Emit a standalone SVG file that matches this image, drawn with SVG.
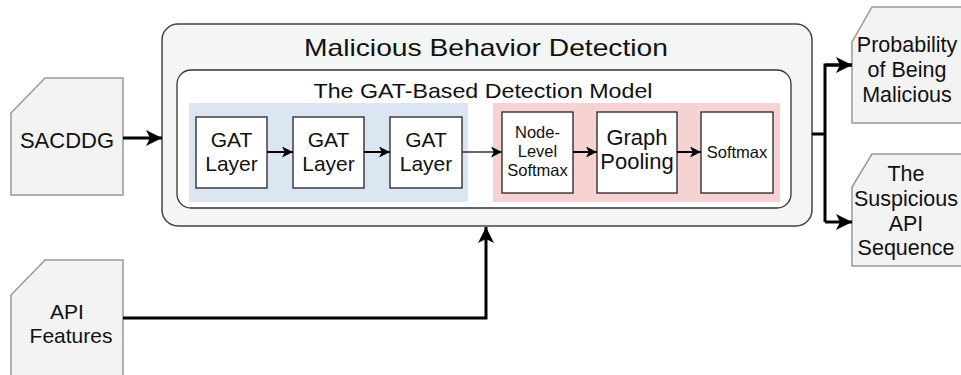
<svg xmlns="http://www.w3.org/2000/svg" width="961" height="375" viewBox="0 0 961 375">
  <defs>
    <style>
      text { font-family: "Liberation Sans", Arial, Helvetica, sans-serif; fill: #111; text-anchor: middle; }
      .card { fill: #f3f3f3; stroke: #999; stroke-width: 1.5; }
      .box { fill: #fff; stroke: #222; stroke-width: 1.3; }
      .wire { fill: none; stroke: #000; stroke-width: 3; }
      .thin { fill: none; stroke: #000; stroke-width: 2; }
      .t21 { font-size: 21px; }
      .t17 { font-size: 16.5px; }
      .t22 { font-size: 21.5px; }
    </style>
    <marker id="head" viewBox="0 0 10 10" refX="10" refY="5" markerWidth="16" markerHeight="16" markerUnits="userSpaceOnUse" orient="auto">
      <path d="M0,0 L10,5 L0,10 L2.5,5 Z" fill="#000"/>
    </marker>
    <marker id="headS" viewBox="0 0 10 10" refX="10" refY="5" markerWidth="11" markerHeight="11" markerUnits="userSpaceOnUse" orient="auto">
      <path d="M0,0 L10,5 L0,10 L2.5,5 Z" fill="#000"/>
    </marker>
  </defs>

  <rect width="961" height="375" fill="#fff"/>

  <!-- container: detection stage -->
  <g id="detection">
    <rect x="162" y="24" width="650" height="202" rx="16" fill="#f4f5f5" stroke="#444" stroke-width="1.5"/>
    <text x="486" y="56" font-size="24" textLength="364" lengthAdjust="spacingAndGlyphs">Malicious Behavior Detection</text>
  </g>

  <!-- GAT-based model -->
  <g id="gat-model">
    <rect x="177" y="70" width="614" height="138" rx="14" fill="#fff" stroke="#333" stroke-width="1.3"/>
    <text x="483" y="98" font-size="21" textLength="339" lengthAdjust="spacingAndGlyphs">The GAT-Based Detection Model</text>
    <rect x="189" y="103" width="279" height="99" fill="#dbe6f2"/>
    <rect x="493" y="103" width="287" height="99" fill="#f6d2d2"/>
  </g>

  <g id="gat1">
    <rect class="box" x="196" y="117" width="71" height="71"/>
    <text class="t21" x="231.5" y="147">GAT</text>
    <text class="t21" x="231.5" y="171">Layer</text>
  </g>
  <g id="gat2">
    <rect class="box" x="293" y="117" width="71" height="71"/>
    <text class="t21" x="328.5" y="147">GAT</text>
    <text class="t21" x="328.5" y="171">Layer</text>
  </g>
  <g id="gat3">
    <rect class="box" x="390" y="117" width="72" height="71"/>
    <text class="t21" x="426" y="147">GAT</text>
    <text class="t21" x="426" y="171">Layer</text>
  </g>

  <g id="node-softmax">
    <rect class="box" x="502" y="112" width="71" height="81"/>
    <text class="t17" x="537.5" y="138">Node-</text>
    <text class="t17" x="537.5" y="157">Level</text>
    <text class="t17" x="537.5" y="176">Softmax</text>
  </g>
  <g id="graph-pooling">
    <rect class="box" x="597" y="112" width="80" height="81"/>
    <text x="637" y="145" font-size="22">Graph</text>
    <text x="637" y="169" font-size="22">Pooling</text>
  </g>
  <g id="softmax">
    <rect class="box" x="701" y="112" width="72" height="81"/>
    <text class="t17" x="737" y="158">Softmax</text>
  </g>

  <!-- inputs -->
  <g id="sacddg">
    <path class="card" d="M45,78 H123 V195 H11 V113 Z"/>
    <text x="67" y="148" font-size="22">SACDDG</text>
  </g>
  <g id="api-features">
    <path class="card" d="M45,260 H123 V380 H11 V295 Z"/>
    <text x="67" y="319" font-size="21">API</text>
    <text x="71" y="343" font-size="21">Features</text>
  </g>

  <!-- outputs -->
  <g id="probability">
    <path class="card" d="M872,7 H970 V123 H852 V42 Z"/>
    <text class="t22" x="907" y="52">Probability</text>
    <text class="t22" x="907" y="77">of Being</text>
    <text class="t22" x="907" y="102">Malicious</text>
  </g>
  <g id="suspicious-sequence">
    <path class="card" d="M872,154 H970 V266 H852 V187 Z"/>
    <text class="t22" x="906" y="181">The</text>
    <text class="t22" x="906" y="206">Suspicious</text>
    <text class="t22" x="906" y="231">API</text>
    <text class="t22" x="906" y="255">Sequence</text>
  </g>

  <!-- connectors -->
  <g id="connectors">
    <line class="wire" x1="123" y1="138" x2="162" y2="138" marker-end="url(#head)"/>
    <path class="wire" d="M123,318 H486 V227" marker-end="url(#head)"/>
    <line class="thin" x1="267" y1="152" x2="293" y2="152" marker-end="url(#headS)"/>
    <line class="thin" x1="364" y1="152" x2="390" y2="152" marker-end="url(#headS)"/>
    <line x1="462" y1="152" x2="502" y2="152" stroke="#333" stroke-width="1.5" marker-end="url(#headS)"/>
    <line class="thin" x1="573" y1="152" x2="597" y2="152" marker-end="url(#headS)"/>
    <line class="thin" x1="677" y1="152" x2="701" y2="152" marker-end="url(#headS)"/>
    <line class="wire" x1="812" y1="134" x2="825" y2="134"/>
    <path class="wire" d="M852,65 H825 V222"/>
    <line class="wire" x1="825" y1="65" x2="852" y2="65" marker-end="url(#head)"/>
    <line class="wire" x1="825" y1="222" x2="852" y2="222" marker-end="url(#head)"/>
  </g>
</svg>
